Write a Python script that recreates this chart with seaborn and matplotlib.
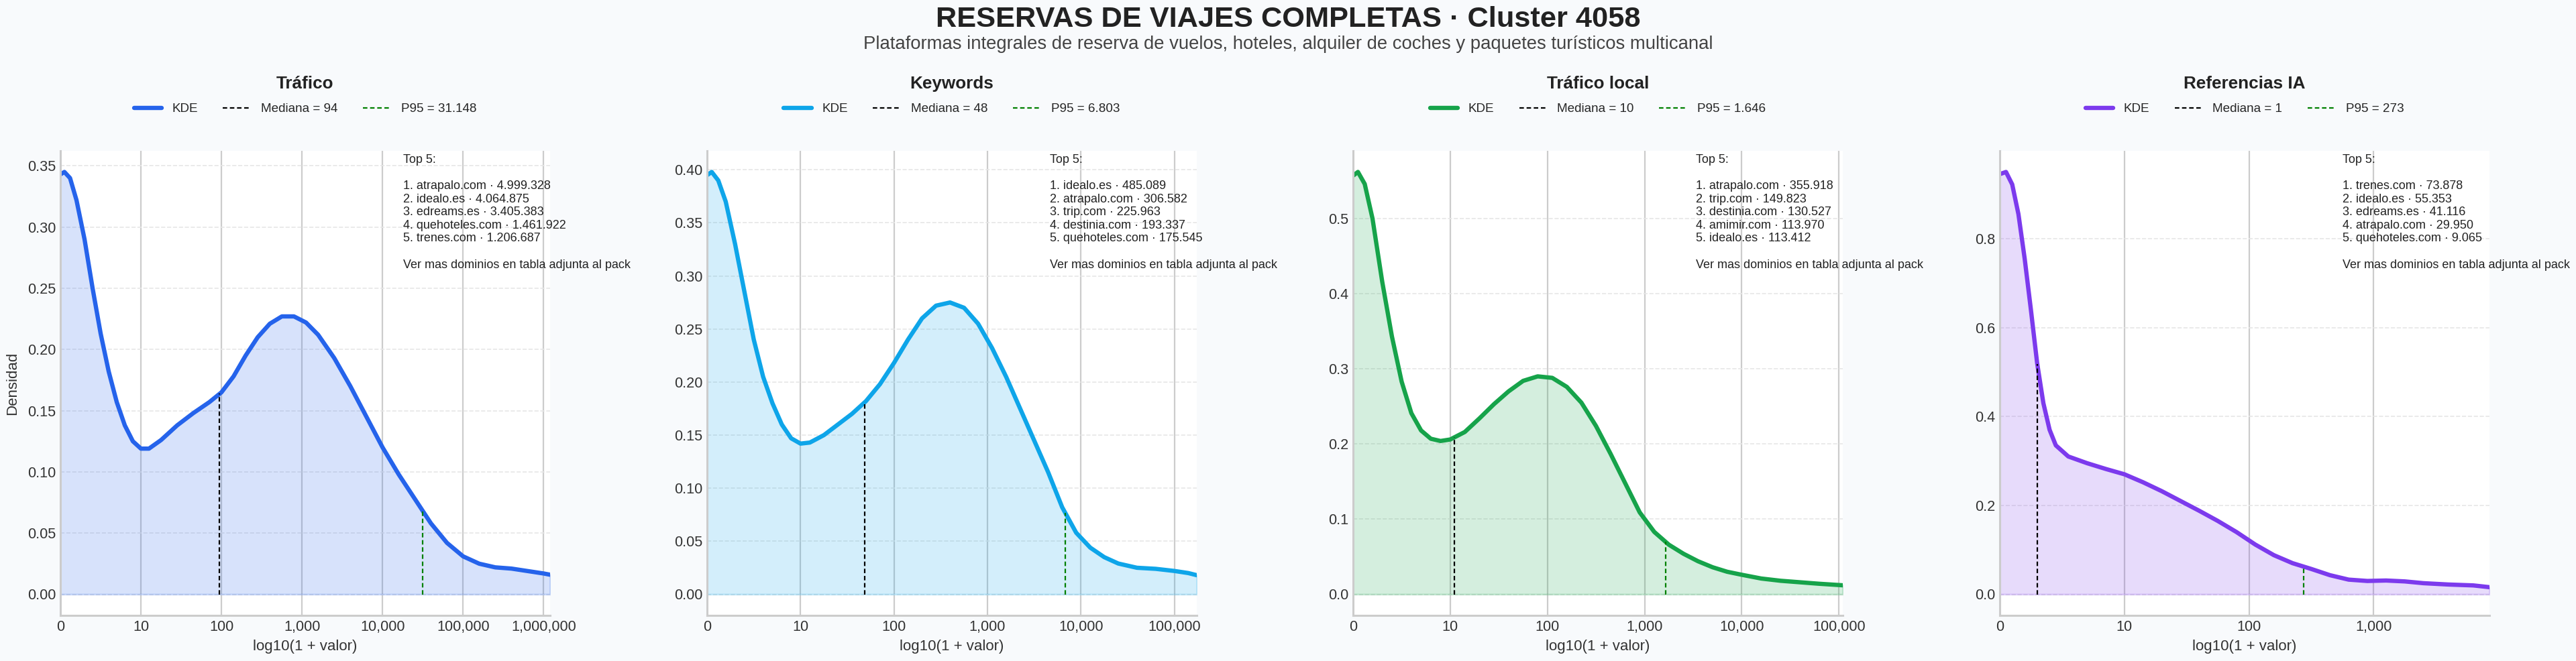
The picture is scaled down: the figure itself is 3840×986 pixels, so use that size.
import numpy as np
import pandas as pd
import seaborn as sns
import matplotlib.pyplot as plt

# estilo base
sns.set_theme(style='whitegrid')
plt.rcParams['font.family'] = ['Liberation Sans', 'DejaVu Sans']

# ---- datos (x = log10(1 + valor), y = densidad) ----
trafico_x = [0.00, 0.05, 0.12, 0.20, 0.30, 0.40, 0.50, 0.60, 0.70, 0.80, 0.90, 1.00, 1.10,
             1.25, 1.45, 1.65, 1.85, 2.00, 2.15, 2.30, 2.45, 2.60, 2.75, 2.90, 3.05, 3.20,
             3.40, 3.60, 3.80, 4.00, 4.20, 4.40, 4.60, 4.80, 5.00, 5.20, 5.40, 5.60, 5.80,
             6.00, 6.08]
trafico_y = [0.343, 0.345, 0.340, 0.322, 0.290, 0.250, 0.213, 0.182, 0.157, 0.138, 0.125,
             0.119, 0.119, 0.126, 0.138, 0.148, 0.157, 0.165, 0.178, 0.195, 0.210, 0.221,
             0.227, 0.227, 0.222, 0.212, 0.193, 0.170, 0.145, 0.120, 0.098, 0.078, 0.058,
             0.042, 0.031, 0.025, 0.022, 0.021, 0.019, 0.017, 0.016]

keywords_x = [0.00, 0.05, 0.12, 0.20, 0.30, 0.40, 0.50, 0.60, 0.70, 0.80, 0.90, 1.00, 1.10,
              1.25, 1.40, 1.55, 1.70, 1.85, 2.00, 2.15, 2.30, 2.45, 2.60, 2.75, 2.90, 3.05,
              3.20, 3.35, 3.50, 3.65, 3.80, 3.95, 4.10, 4.25, 4.40, 4.60, 4.80, 5.00, 5.15,
              5.24]
keywords_y = [0.395, 0.398, 0.390, 0.370, 0.330, 0.285, 0.240, 0.205, 0.180, 0.160, 0.147,
              0.142, 0.143, 0.150, 0.160, 0.170, 0.182, 0.198, 0.218, 0.240, 0.260, 0.272,
              0.275, 0.270, 0.255, 0.232, 0.205, 0.175, 0.145, 0.115, 0.082, 0.058, 0.044,
              0.035, 0.029, 0.025, 0.024, 0.022, 0.020, 0.018]

local_x = [0.00, 0.05, 0.12, 0.20, 0.30, 0.40, 0.50, 0.60, 0.70, 0.80, 0.90, 1.00, 1.15,
           1.30, 1.45, 1.60, 1.75, 1.90, 2.05, 2.20, 2.35, 2.50, 2.65, 2.80, 2.95, 3.10,
           3.25, 3.40, 3.55, 3.70, 3.85, 4.00, 4.20, 4.40, 4.60, 4.80, 5.04]
local_y = [0.557, 0.562, 0.546, 0.500, 0.416, 0.343, 0.283, 0.241, 0.218, 0.207, 0.204,
           0.206, 0.216, 0.234, 0.253, 0.270, 0.284, 0.290, 0.288, 0.276, 0.255, 0.224,
           0.187, 0.148, 0.109, 0.083, 0.066, 0.054, 0.044, 0.036, 0.030, 0.026, 0.021,
           0.018, 0.016, 0.014, 0.012]

ia_x = [0.00, 0.05, 0.10, 0.15, 0.20, 0.25, 0.30, 0.35, 0.40, 0.45, 0.55, 0.70, 0.85, 1.00,
        1.15, 1.30, 1.45, 1.60, 1.75, 1.90, 2.05, 2.20, 2.35, 2.50, 2.65, 2.80, 2.95, 3.10,
        3.25, 3.40, 3.60, 3.80, 3.93]
ia_y = [0.945, 0.950, 0.922, 0.855, 0.755, 0.640, 0.520, 0.430, 0.370, 0.335, 0.310, 0.295,
        0.282, 0.270, 0.252, 0.232, 0.210, 0.188, 0.165, 0.140, 0.112, 0.088, 0.070, 0.057,
        0.043, 0.033, 0.030, 0.031, 0.029, 0.025, 0.022, 0.020, 0.016]

titulos = ['Tráfico', 'Keywords', 'Tráfico local', 'Referencias IA']
colores = ['#2563eb', '#0ea5e9', '#16a34a', '#7c3aed']
medianas = [94, 48, 10, 1]
p95s = [31148, 6803, 1646, 273]
medianas_txt = ['94', '48', '10', '1']
p95s_txt = ['31.148', '6.803', '1.646', '273']

top_trafico = ['atrapalo.com · 4.999.328', 'idealo.es · 4.064.875', 'edreams.es · 3.405.383',
               'quehoteles.com · 1.461.922', 'trenes.com · 1.206.687']
top_keywords = ['idealo.es · 485.089', 'atrapalo.com · 306.582', 'trip.com · 225.963',
                'destinia.com · 193.337', 'quehoteles.com · 175.545']
top_local = ['atrapalo.com · 355.918', 'trip.com · 149.823', 'destinia.com · 130.527',
             'amimir.com · 113.970', 'idealo.es · 113.412']
top_ia = ['trenes.com · 73.878', 'idealo.es · 55.353', 'edreams.es · 41.116',
          'atrapalo.com · 29.950', 'quehoteles.com · 9.065']

curvas = [(trafico_x, trafico_y), (keywords_x, keywords_y), (local_x, local_y), (ia_x, ia_y)]
tops = [top_trafico, top_keywords, top_local, top_ia]

# ---- figura ----
fig = plt.figure(figsize=(19.2, 4.93), dpi=200, facecolor='#f8fafc')
lefts = [90, 1054, 2017, 2981]

for i in range(4):
    xs, ys = curvas[i]
    df = pd.DataFrame({'x': xs, 'y': ys})
    ax = fig.add_axes([lefts[i] / 3840, 68 / 986, 730 / 3840, 693 / 986])
    ax.set_facecolor('white')

    sns.lineplot(data=df, x='x', y='y', ax=ax, color=colores[i], lw=2.3, label='KDE')
    ax.fill_between(df['x'], df['y'], 0, color=colores[i], alpha=0.18, lw=1)

    xm = np.log10(1 + medianas[i])
    xp = np.log10(1 + p95s[i])
    ax.plot([xm, xm], [0, np.interp(xm, xs, ys)], color='black', lw=0.8,
            dashes=(3, 1.8), label=f'Mediana = {medianas_txt[i]}')
    ax.plot([xp, xp], [0, np.interp(xp, xs, ys)], color='green', lw=0.8,
            dashes=(3, 1.8), label=f'P95 = {p95s_txt[i]}')

    ax.set_xlim(0, xs[-1])
    ticks = list(range(0, int(np.floor(xs[-1])) + 1))
    ax.set_xticks(ticks)
    ax.set_xticklabels(['0' if t == 0 else f'{10 ** t:,}' for t in ticks])

    ax.grid(axis='x', color='#cccccc', lw=0.8, ls='-')
    ax.grid(axis='y', color='#e6e6e6', lw=0.6, ls='--')
    for s in ['top', 'right']:
        ax.spines[s].set_visible(False)
    for s in ['left', 'bottom']:
        ax.spines[s].set_color('#cccccc')
        ax.spines[s].set_linewidth(1.1)
    ax.tick_params(axis='both', labelsize=7.8, colors='#333333', pad=2.5, length=0)

    ax.set_xlabel('log10(1 + valor)', fontsize=8.0, color='#333333', labelpad=3)
    ax.set_ylabel('Densidad' if i == 0 else '', fontsize=8.0, color='#333333')

    ax.text(0.5, 1.145, titulos[i], transform=ax.transAxes, ha='center', va='center',
            fontsize=9.4, fontweight='bold', color='#222222')
    ax.legend(loc='center', bbox_to_anchor=(0.5, 1.09), ncol=3, frameon=False,
              fontsize=6.8, handlelength=2.2, columnspacing=2.0, handletextpad=0.8)

    texto = 'Top 5:\n\n' + '\n'.join(f'{k + 1}. {t}' for k, t in enumerate(tops[i]))
    texto += '\n\nVer mas dominios en tabla adjunta al pack'
    ax.text(0.70, 0.993, texto, transform=ax.transAxes, ha='left', va='top',
            fontsize=6.5, color='#222222', clip_on=False, linespacing=1.2)

fig.text(0.5, 0.971, 'RESERVAS DE VIAJES COMPLETAS · Cluster 4058', ha='center', va='center',
         fontsize=15.6, fontweight='bold', color='#222222')
fig.text(0.5, 0.933, 'Plataformas integrales de reserva de vuelos, hoteles, alquiler de coches '
         'y paquetes turísticos multicanal', ha='center', va='center', fontsize=9.9,
         color='#444444')

fig.savefig('out.png', dpi=200, facecolor=fig.get_facecolor())
